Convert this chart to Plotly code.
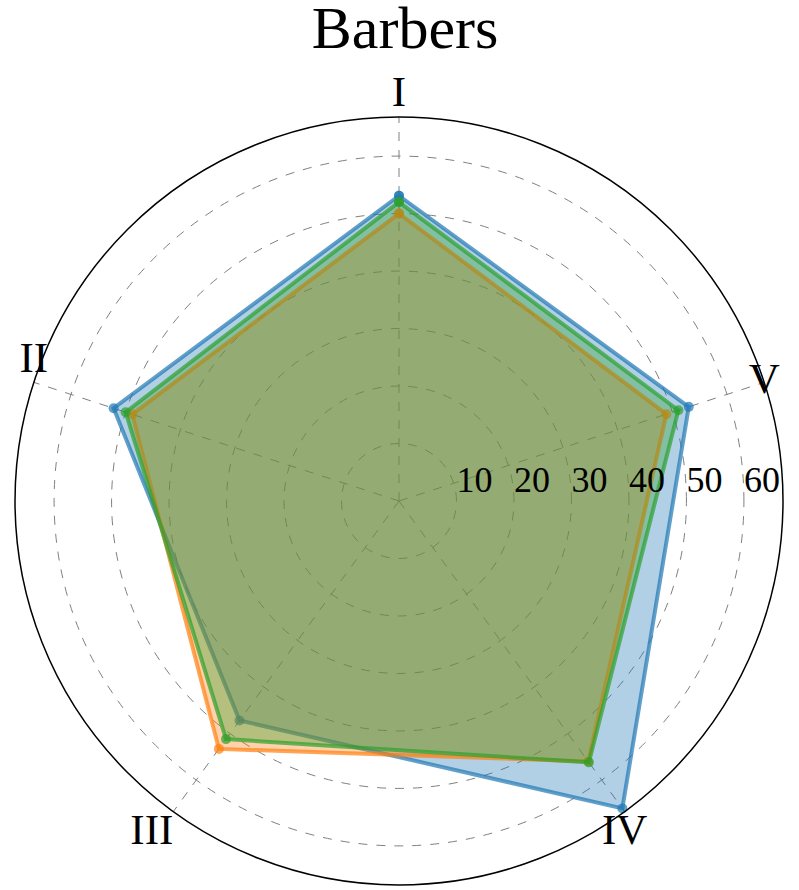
import plotly.graph_objects as go

categories = ['I', 'II', 'III', 'IV', 'V']
blue_vals = [53.1, 52.2, 47.2, 66.1, 53.0]
orange_vals = [50.0, 48.8, 53.3, 56.0, 48.9]
green_vals = [52.0, 50.0, 51.2, 56.2, 51.1]
radial_ticks = [10, 20, 30, 40, 50, 60]

r_max = 66.8
angles = [360 / len(categories) * i for i in range(len(categories))]

series = [
    ('blue', blue_vals, 'rgba(31,119,180,0.7)', 'rgba(31,119,180,0.35)'),
    ('orange', orange_vals, 'rgba(255,127,14,0.7)', 'rgba(255,127,14,0.35)'),
    ('green', green_vals, 'rgba(44,160,44,0.7)', 'rgba(44,160,44,0.35)'),
]

fig = go.Figure()
for name, vals, line_col, fill_col in series:
    fig.add_trace(go.Scatterpolar(
        r=vals + vals[:1], theta=angles + angles[:1],
        mode='lines+markers', name=name, fill='toself',
        fillcolor=fill_col, line=dict(color=line_col, width=4),
        marker=dict(color=line_col, size=10)))

# radial tick labels, upper right of each tick like matplotlib does
fig.add_trace(go.Scatterpolar(
    r=radial_ticks, theta=[270] * len(radial_ticks), mode='text',
    text=[str(t) for t in radial_ticks], textposition='top right',
    textfont=dict(size=36, color='black'), cliponaxis=False, hoverinfo='skip'))

# category labels sitting on/just outside the outer circle
fig.add_trace(go.Scatterpolar(
    r=[r_max] * len(categories), theta=angles, mode='text', text=categories,
    textposition=['top center', 'top center', 'bottom left', 'bottom center', 'middle center'],
    textfont=dict(size=43, color='black'), cliponaxis=False, hoverinfo='skip'))

fig.update_layout(
    width=799, height=890,
    showlegend=False,
    paper_bgcolor='white',
    font=dict(family='Liberation Serif, Times New Roman, serif', color='black'),
    title=dict(text='Barbers', x=0.507, xanchor='center', y=0.993, yanchor='top',
               pad=dict(t=0, b=0), font=dict(size=60, color='black')),
    margin=dict(l=15, r=16, t=117, b=5),
    polar=dict(
        bgcolor='white',
        radialaxis=dict(range=[0, r_max], tickvals=radial_ticks, angle=0,
                        showline=False, ticks='', showticklabels=False,
                        gridcolor='gray', griddash='dash', gridwidth=1),
        angularaxis=dict(rotation=90, direction='counterclockwise',
                         tickmode='array', tickvals=angles, ticktext=categories,
                         showticklabels=False, ticks='',
                         showline=True, linecolor='black', linewidth=1.5,
                         gridcolor='gray', griddash='dash', gridwidth=1),
    ),
)

fig.write_html('out.html', config={'displayModeBar': False},
               post_script="document.body.style.margin='0';")
